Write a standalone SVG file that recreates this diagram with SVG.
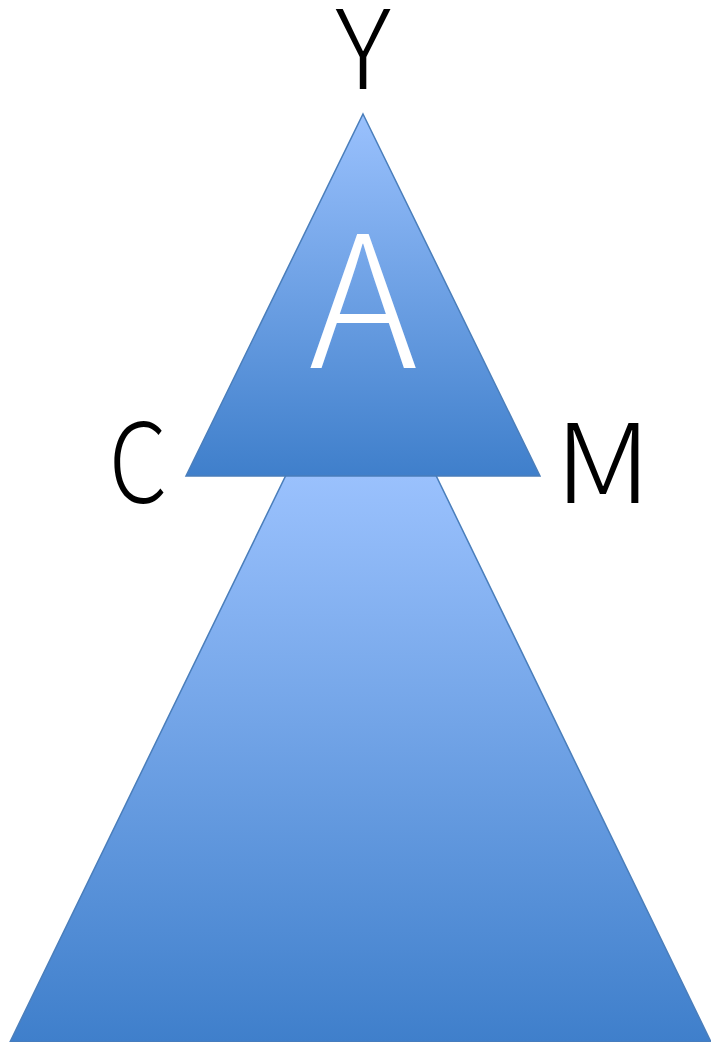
<svg xmlns="http://www.w3.org/2000/svg" width="711" height="1042" viewBox="0 0 711 1042">
<defs>
<linearGradient id="gSmall" gradientUnits="userSpaceOnUse" x1="0" y1="114" x2="0" y2="476">
<stop offset="0" stop-color="#9AC1FD"/>
<stop offset="1" stop-color="#3F7FCB"/>
</linearGradient>
<linearGradient id="gBig" gradientUnits="userSpaceOnUse" x1="0" y1="476" x2="0" y2="1042">
<stop offset="0" stop-color="#9AC1FD"/>
<stop offset="1" stop-color="#3F7FCB"/>
</linearGradient>
<style>
.tri{stroke:#4A7EBB;stroke-width:1.5;stroke-linejoin:miter}
.lbl{font-family:"Noto Sans CJK JP","Liberation Sans",sans-serif;font-weight:300;font-size:110px;fill:#000;text-anchor:middle}
.big{font-family:"Noto Sans CJK JP","Liberation Sans",sans-serif;font-weight:300;font-size:184px;fill:#FFFFFF;text-anchor:middle}
</style>
</defs>
<g id="base-triangle">
<polygon class="tri" points="361,321 711,1042 10,1042" fill="url(#gBig)"/>
</g>
<g id="top-triangle">
<polygon class="tri" points="363,114 540,476 186,476" fill="url(#gSmall)"/>
<text class="big" x="363" y="368">A</text>
</g>
<g id="label-Y"><text class="lbl" x="363" y="89">Y</text></g>
<g id="label-C"><text class="lbl" transform="translate(138,503) scale(0.85,1)" x="0" y="0">C</text></g>
<g id="label-M"><text class="lbl" transform="translate(603,503) scale(1.12,1)" x="0" y="0">M</text></g>
<g id="connectors"/>
</svg>
